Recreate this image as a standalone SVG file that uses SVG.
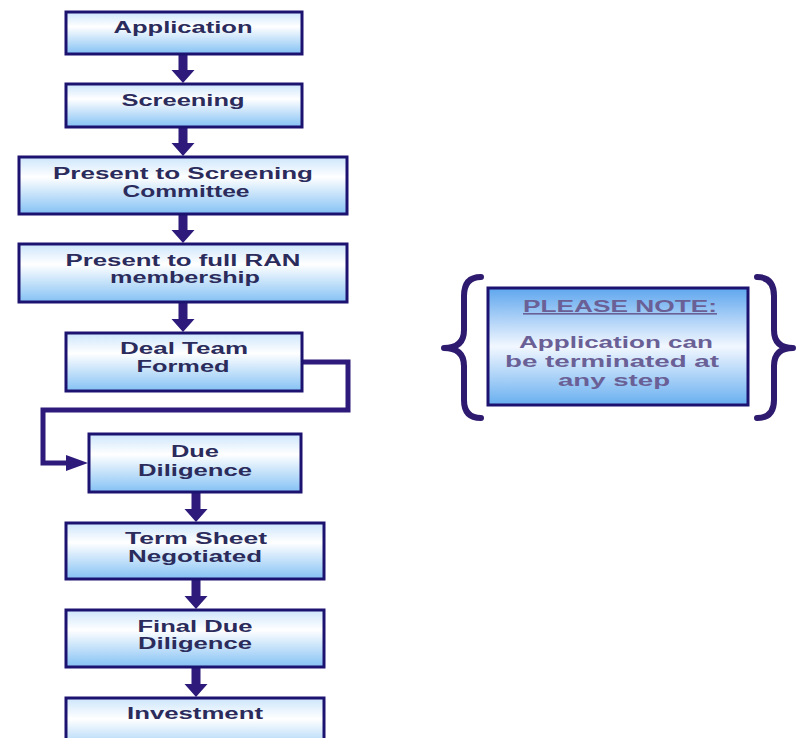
<svg xmlns="http://www.w3.org/2000/svg" width="797" height="738" viewBox="0 0 797 738">
<defs>
<linearGradient id="gn" x1="0" y1="0" x2="0" y2="1">
<stop offset="0" stop-color="#cce5fb"/>
<stop offset="0.35" stop-color="#ffffff"/>
<stop offset="1" stop-color="#84c1f4"/>
</linearGradient>
<linearGradient id="gnote" x1="0" y1="0" x2="0" y2="1">
<stop offset="0" stop-color="#5ea6ee"/>
<stop offset="0.5" stop-color="#f2f7ff"/>
<stop offset="1" stop-color="#68aff0"/>
</linearGradient>
<style>
.box{fill:url(#gn);stroke:#1c1270;stroke-width:3}
.t{font-family:"Liberation Sans",Arial,sans-serif;font-weight:bold;font-size:16px;fill:#2b2b5c;text-anchor:middle}
.nt{font-family:"Liberation Sans",Arial,sans-serif;font-weight:bold;font-size:16px;fill:#6a6096;text-anchor:middle}
.arr{fill:#2e1a7a}
.conn{fill:none;stroke:#2e1a7a;stroke-width:5}
.brace{fill:none;stroke:#2e1a6e;stroke-width:6;stroke-linecap:round;stroke-linejoin:round}
</style>
</defs>
<rect width="797" height="738" fill="#ffffff"/>

<g id="connectors">
<path class="arr" d="M178.5 55H187.5V70H194.5L183 83L171.5 70H178.5Z"/>
<path class="arr" d="M178.5 128H187.5V143H194.5L183 156L171.5 143H178.5Z"/>
<path class="arr" d="M178.5 215H187.5V230H194.5L183 243L171.5 230H178.5Z"/>
<path class="arr" d="M178.5 303H187.5V319H194.5L183 332L171.5 319H178.5Z"/>
<path class="arr" d="M191.5 493H200.5V509H207.5L196 522L184.5 509H191.5Z"/>
<path class="arr" d="M191.5 580H200.5V596H207.5L196 609L184.5 596H191.5Z"/>
<path class="arr" d="M191.5 668H200.5V684H207.5L196 697L184.5 684H191.5Z"/>
<path class="conn" d="M302 362H348V410H43V463H70"/>
<path class="arr" d="M66 455L88 463L66 471Z"/>
</g>

<g id="n1"><rect class="box" x="66" y="12" width="236" height="42"/>
<text class="t" x="183" y="33" textLength="139" lengthAdjust="spacingAndGlyphs">Application</text></g>
<g id="n2"><rect class="box" x="66" y="84" width="236" height="43"/>
<text class="t" x="183" y="106" textLength="123" lengthAdjust="spacingAndGlyphs">Screening</text></g>
<g id="n3"><rect class="box" x="19" y="157" width="328" height="57"/>
<text class="t" x="183" y="179" textLength="260" lengthAdjust="spacingAndGlyphs">Present to Screening</text>
<text class="t" x="186" y="197" textLength="127" lengthAdjust="spacingAndGlyphs">Committee</text></g>
<g id="n4"><rect class="box" x="19" y="244" width="328" height="58"/>
<text class="t" x="183" y="266" textLength="235" lengthAdjust="spacingAndGlyphs">Present to full RAN</text>
<text class="t" x="185" y="283" textLength="150" lengthAdjust="spacingAndGlyphs">membership</text></g>
<g id="n5"><rect class="box" x="66" y="333" width="236" height="58"/>
<text class="t" x="184" y="354" textLength="128" lengthAdjust="spacingAndGlyphs">Deal Team</text>
<text class="t" x="183" y="372" textLength="93" lengthAdjust="spacingAndGlyphs">Formed</text></g>
<g id="n6"><rect class="box" x="89" y="434" width="212" height="58"/>
<text class="t" x="195" y="457" textLength="48" lengthAdjust="spacingAndGlyphs">Due</text>
<text class="t" x="195" y="476" textLength="114" lengthAdjust="spacingAndGlyphs">Diligence</text></g>
<g id="n7"><rect class="box" x="66" y="523" width="258" height="56"/>
<text class="t" x="196" y="544" textLength="142" lengthAdjust="spacingAndGlyphs">Term Sheet</text>
<text class="t" x="195" y="562" textLength="134" lengthAdjust="spacingAndGlyphs">Negotiated</text></g>
<g id="n8"><rect class="box" x="66" y="610" width="258" height="57"/>
<text class="t" x="195" y="632" textLength="115" lengthAdjust="spacingAndGlyphs">Final Due</text>
<text class="t" x="195" y="649" textLength="114" lengthAdjust="spacingAndGlyphs">Diligence</text></g>
<g id="n9"><rect class="box" x="66" y="698" width="258" height="60"/>
<text class="t" x="195" y="719" textLength="136" lengthAdjust="spacingAndGlyphs">Investment</text></g>

<g id="note">
<path class="brace" d="M481 277Q464 277 464 296V330Q464 348 444 348Q464 348 464 366V400Q464 418 481 418"/>
<path class="brace" d="M757 277Q774 277 774 296V330Q774 348 793 348Q774 348 774 366V400Q774 418 757 418"/>
<rect x="488" y="288" width="260" height="117" fill="url(#gnote)" stroke="#1c1270" stroke-width="3"/>
<text class="nt" x="620" y="312" textLength="194" lengthAdjust="spacingAndGlyphs" text-decoration="underline">PLEASE NOTE:</text>
<text class="nt" x="616" y="348" textLength="194" lengthAdjust="spacingAndGlyphs">Application can</text>
<text class="nt" x="612" y="367" textLength="214" lengthAdjust="spacingAndGlyphs">be terminated at</text>
<text class="nt" x="614" y="386" textLength="112" lengthAdjust="spacingAndGlyphs">any step</text>
</g>
</svg>
